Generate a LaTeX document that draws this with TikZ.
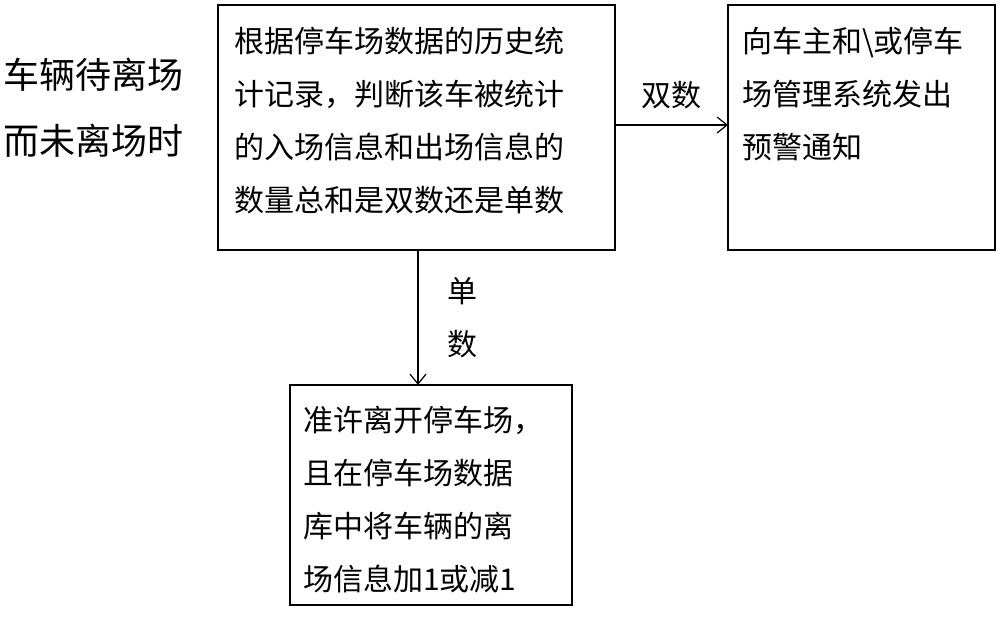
\documentclass[tikz,border=0pt]{standalone}
\usepackage{fontspec}
\setmainfont{Noto Sans CJK SC}
\usetikzlibrary{arrows.meta}
\begin{document}
\begin{tikzpicture}[x=1pt,y=-1pt,
  box/.style={draw,line width=1.2pt,inner sep=0pt},
  txt/.style={anchor=north west,align=left,font=\fontsize{30}{53}\selectfont,inner sep=0pt},
  arr/.style={line width=1.2pt,-{Straight Barb[length=10pt,width=16pt]}}]
\useasboundingbox (0,0) rectangle (1000,640);
\draw[box] (218,5) rectangle (615,250);
\node[txt] (t1) at (234,27) {根据停车场数据的历史统\\计记录，判断该车被统计\\的入场信息和出场信息的\\数量总和是双数还是单数};
\draw[box] (728,5) rectangle (995,250);
\node[txt] (t2) at (742,27) {向车主和\textbackslash 或停车\\场管理系统发出\\预警通知};
\draw[box] (290,385) rectangle (572,605);
\node[txt] (t3) at (303,406) {准许离开停车场，\\且在停车场数据\\库中将车辆的离\\场信息加1或减1};
\node[txt,font=\fontsize{36}{66}\selectfont] (t0) at (3,58) {车辆待离场\\而未离场时};
\coordinate (a1) at (615,125); \coordinate (a2) at (728,125);
\draw[arr] (a1) -- (a2) node[midway,above=12pt,font=\fontsize{30}{36}\selectfont] {双数};
\coordinate (c1) at (418,250); \coordinate (c2) at (418,385);
\draw[arr] (c1) -- (c2);
\node[font=\fontsize{30}{53}\selectfont,align=center] (l2) at (462,318) {单\\数};
\end{tikzpicture}
\end{document}
